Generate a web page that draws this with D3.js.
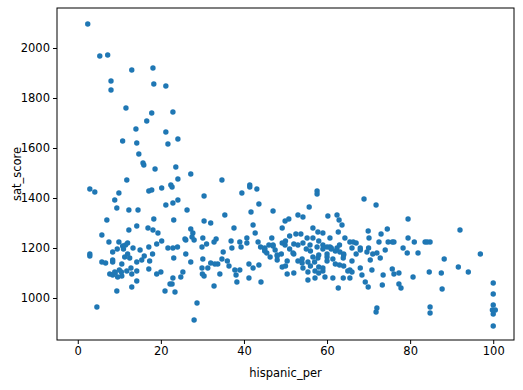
<!DOCTYPE html>
<html><head><meta charset="utf-8">
<script src="https://cdn.jsdelivr.net/npm/d3@7"></script>
<style>body{margin:0;background:#fff}svg{display:block}text{font-family:"DejaVu Sans",sans-serif}</style>
</head><body><svg id="c" width="523" height="390"></svg>
<script>
const hispanicPer = [2.4,5.3,7.2,13,18.1,8,8,18.3,21.2,11.6,17.8,22.9,16.6,14,21.2,10.8,14.2,21.7,24.1,14.7,15.7,15.9,18.6,23.6,11.8,24.1,22.4,27.2,34.7,41.4,
2.9,4.1,9.9,8.9,9.4,12.3,14.5,7,5.8,7.5,12.3,14.2,17.1,17.8,20.2,21.2,18.3,16.9,18.1,19.3,17.1,20.2,9.9,12,10.8,8.4,2.9,13.3,15,21.7,
22.7,24.1,22.9,30.4,26.3,23.1,30.4,32,35.4,39.5,41.4,43.1,43.6,41.7,47,37.6,42.2,27.2,27.7,25.8,27.5,30.1,29.9,33.3,32.8,36.9,39,40.7,42.7,43.4,46.7,22.9,37.1,39.3,40.7,45.5,47.5,
57.6,57.6,68.9,71.8,55.7,53,54.2,60.2,62.4,62.9,63.6,50.8,49.9,49.2,56.6,57.8,59,52.5,53.7,69.9,74.5,73,70.1,62.7,60.7,56.6,55.2,64.3,65.5,66.3,49.2,49.9,54.2,55.9,57.6,59,60.7,62.4,72.5,74.7,51.8,63.1,68,69.6,72,
79.5,92,79.5,81,75.7,76.1,78.3,83.6,84.8,84.1,79.3,81.9,96.9,
2.9,5.8,6.7,8.4,8.4,11.3,12.5,14.2,15.4,17.3,10.6,7.7,8.4,9.6,8.9,10.6,11.8,12.8,14.2,17.1,19,14.2,13,9.4,4.6,21,22.2,
23.1,27.2,30.1,34.7,32,29.9,31.3,33.7,36.4,37.8,39,41.2,42.2,43.6,46.3,48,25.3,24.8,22.9,22.7,23.4,30.4,34.2,32.8,38.1,38.3,41.2,44.1,28.7,28,
50.4,50.4,49.2,54,55.4,56.6,57.8,60,61.4,63.9,54.2,55.4,57.1,55.4,57.1,59,59.5,61.4,63.9,65.5,62.7,65.5,68,68.4,69.2,69.9,70.4,72.8,70.8,73.3,73.5,72,71.8,
75.7,76.1,77.3,77.3,77.8,80.7,84.6,87.5,88.2,91.6,94,87.7,84.8,84.8,100,100,100,99.8,100.5,100,100,
9,10,11,12,13,9.5,10.5,11.5,16,18,20,19,24,26,
45,47,49,51,52,53,56,58,59,61,63,64,66,45,48,50,52,55,58,60,62,64,67,54,56,58,60,61,63,65,66,57,59,44,46,48,51,53,
70,71,74,68,67,66,64,62,60,58,52,50,47,45,35,33,31,36,30,28,26];
const satScore = [2096,1968,1972,1912,1920,1868,1832,1856,1848,1760,1740,1744,1708,1676,1664,1628,1620,1616,1636,1576,1540,1532,1516,1524,1472,1476,1452,1496,1472,1452,
1436,1424,1420,1392,1360,1352,1352,1312,1252,1224,1272,1288,1428,1432,1440,1372,1316,1280,1272,1260,1204,1228,1224,1220,1208,1184,1176,1200,1192,1200,
1444,1392,1380,1408,1352,1312,1308,1300,1332,1420,1444,1436,1376,1344,1348,1280,1292,1276,1260,1236,1244,1240,1204,1236,1224,1228,1224,1240,1260,1224,1240,1200,1200,1204,1220,1180,1192,
1428,1416,1396,1372,1364,1332,1324,1328,1332,1312,1292,1316,1308,1280,1280,1264,1260,1256,1256,1268,1276,1256,1240,1264,1240,1240,1240,1240,1224,1224,1220,1212,1220,1212,1204,1212,1204,1200,1224,1224,1180,1184,1192,1184,1180,
1316,1272,1240,1224,1224,1224,1200,1224,1224,1224,1180,1180,1176,
1168,1144,1140,1152,1144,1164,1160,1144,1152,1148,1136,1096,1092,1084,1104,1088,1108,1120,1108,1116,1096,1068,1044,1028,964,1028,1056,
1160,1144,1156,1156,1140,1120,1120,1136,1128,1112,1112,1136,1120,1132,1164,1152,1104,1084,1080,1056,1024,1088,1096,1048,1092,1064,1080,1064,980,912,
1148,1096,1124,1156,1144,1164,1160,1164,1156,1160,1120,1104,1108,1072,1080,1120,1084,1080,1080,1080,1040,1112,1120,1092,1064,1044,1152,1160,1112,1052,1092,960,944,
1116,1096,1100,1056,1040,1084,1104,1100,1156,1124,1104,1036,964,940,1060,1016,972,952,952,936,888,
1100,1112,1196,1176,1096,1196,1104,1212,1168,1176,1104,1216,1204,1176,
1188,1208,1176,1196,1216,1148,1188,1172,1196,1200,1212,1176,1148,1196,1168,1228,1176,1196,1228,1204,1188,1172,1176,1140,1128,1124,1176,1196,1132,1108,1104,1144,1108,1204,1212,1172,1248,1212,
1200,1176,1192,1200,1220,1200,1128,1136,1148,1100,1100,1128,1212,1200,1184,1136,1216,1148,1096,1232,1232];
const xTicks = [0,20,40,60,80,100];
const yTicks = [1000,1200,1400,1600,1800,2000];
const xLabel = "hispanic_per", yLabel = "sat_score";

const svg = d3.select("#c");
const L=57,R=514,T=8,B=340;
const x = d3.scaleLinear().domain([-5,105]).range([L,R]);
const y = d3.scaleLinear().domain([832,2160]).range([B,T]);
const pts = hispanicPer.map((v,i)=>({x:v,y:satScore[i]}));
svg.append("g").selectAll("circle").data(pts).join("circle")
  .attr("cx",d=>x(d.x)).attr("cy",d=>y(d.y)).attr("r",2.7).attr("fill","#1f77b4");
const fs="11.5px";
const gx = svg.append("g").attr("transform",`translate(0,${B})`).call(d3.axisBottom(x).tickValues(xTicks).tickFormat(d3.format("d")).tickSize(4).tickPadding(3));
const gy = svg.append("g").attr("transform",`translate(${L},0)`).call(d3.axisLeft(y).tickValues(yTicks).tickFormat(d3.format("d")).tickSize(4).tickPadding(3));
[gx,gy].forEach(g=>{g.select(".domain").remove();g.selectAll("text").attr("font-size",fs).attr("fill","#000").attr("font-family","DejaVu Sans");g.selectAll("line").attr("stroke","#000");});
svg.append("rect").attr("x",L).attr("y",T).attr("width",R-L).attr("height",B-T).attr("fill","none").attr("stroke","#000").attr("stroke-width",1);
svg.append("text").attr("x",(L+R)/2).attr("y",377).attr("text-anchor","middle").attr("font-size",fs).text(xLabel);
svg.append("text").attr("transform",`translate(21,${(T+B)/2}) rotate(-90)`).attr("text-anchor","middle").attr("font-size",fs).text(yLabel);
</script></body></html>
